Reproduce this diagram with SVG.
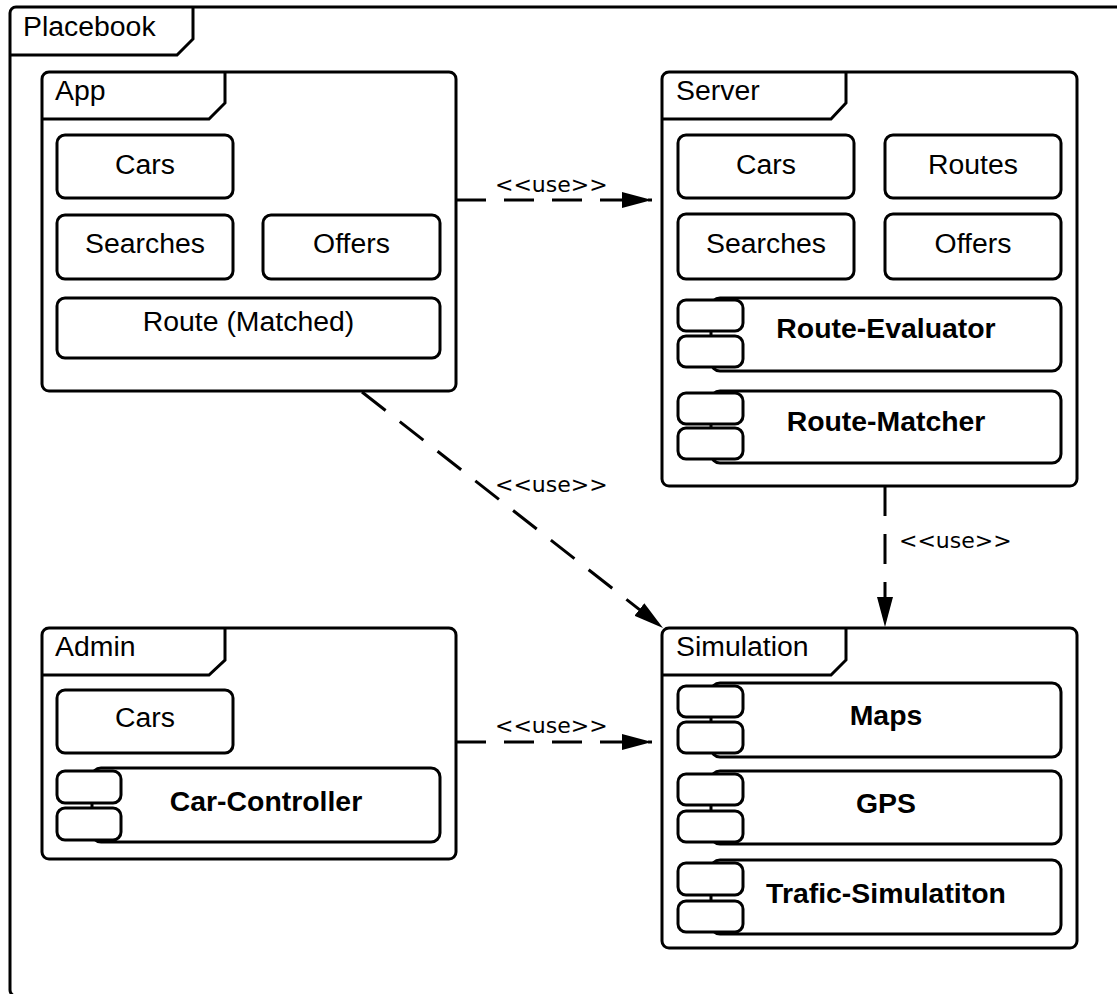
<svg xmlns="http://www.w3.org/2000/svg" width="1117" height="994" viewBox="0 0 1117 994">
  <style>
    .frame { fill: #fff; stroke: #000; stroke-width: 3; }
    .tab { fill: none; stroke: #000; stroke-width: 3; stroke-linejoin: miter; }
    .box { fill: #fff; stroke: #000; stroke-width: 3; }
    .title { font-family: "Liberation Sans", Arial, sans-serif; font-size: 28.4px; fill: #000; }
    .name { font-family: "Liberation Sans", Arial, sans-serif; font-size: 28.4px; fill: #000; text-anchor: middle; }
    .comp { font-family: "Liberation Sans", Arial, sans-serif; font-size: 28.4px; font-weight: bold; fill: #000; text-anchor: middle; }
    .dep { fill: none; stroke: #000; stroke-width: 3; stroke-dasharray: 30 18; marker-end: url(#arrow); }
    .stereo { font-family: "DejaVu Sans", Verdana, sans-serif; font-size: 22px; fill: #000; }
  </style>
  <defs>
    <marker id="arrow" markerUnits="userSpaceOnUse" markerWidth="30" markerHeight="16" refX="30" refY="8" orient="auto">
      <path d="M0,0 L30,8 L0,16 Z" fill="#000"/>
    </marker>
  </defs>

  <rect width="1117" height="994" fill="#fff"/>

  <!-- Outer package: Placebook -->
  <g id="placebook">
    <rect class="frame" x="10" y="7" width="1130" height="989" rx="6"/>
    <path class="tab" d="M10,55 H177 L193,39 V7"/>
    <text class="title" x="23" y="36">Placebook</text>
  </g>

  <!-- Package: App -->
  <g id="app">
    <rect class="frame" x="42" y="72" width="414" height="319" rx="7"/>
    <path class="tab" d="M42,119 H209 L225,103 V72"/>
    <text class="title" x="55" y="100">App</text>
    <rect class="box" x="57" y="135" width="176" height="63" rx="8"/>
    <text class="name" x="145" y="174">Cars</text>
    <rect class="box" x="57" y="215" width="176" height="64" rx="8"/>
    <text class="name" x="145" y="253">Searches</text>
    <rect class="box" x="263" y="215" width="177" height="64" rx="8"/>
    <text class="name" x="351.5" y="253">Offers</text>
    <rect class="box" x="57" y="298" width="383" height="60" rx="8"/>
    <text class="name" x="248.5" y="331">Route (Matched)</text>
  </g>

  <!-- Package: Server -->
  <g id="server">
    <rect class="frame" x="662" y="72" width="415" height="414" rx="7"/>
    <path class="tab" d="M662,119 H831 L846,103 V72"/>
    <text class="title" x="676" y="100">Server</text>
    <rect class="box" x="678" y="135" width="176" height="63" rx="8"/>
    <text class="name" x="766" y="174">Cars</text>
    <rect class="box" x="885" y="135" width="176" height="63" rx="8"/>
    <text class="name" x="973" y="174">Routes</text>
    <rect class="box" x="678" y="214" width="176" height="65" rx="8"/>
    <text class="name" x="766" y="253">Searches</text>
    <rect class="box" x="885" y="214" width="176" height="65" rx="8"/>
    <text class="name" x="973" y="253">Offers</text>
    <g id="route-evaluator">
      <rect class="box" x="711" y="298" width="350" height="73" rx="9"/>
      <rect class="box" x="678" y="300" width="65" height="31" rx="8"/>
      <rect class="box" x="678" y="336" width="65" height="31" rx="8"/>
      <text class="comp" x="886" y="338">Route-Evaluator</text>
    </g>
    <g id="route-matcher">
      <rect class="box" x="711" y="391" width="350" height="72" rx="9"/>
      <rect class="box" x="678" y="393" width="65" height="31" rx="8"/>
      <rect class="box" x="678" y="428" width="65" height="31" rx="8"/>
      <text class="comp" x="886" y="431">Route-Matcher</text>
    </g>
  </g>

  <!-- Package: Admin -->
  <g id="admin">
    <rect class="frame" x="42" y="628" width="414" height="231" rx="7"/>
    <path class="tab" d="M42,675 H209 L225,660 V628"/>
    <text class="title" x="55" y="656">Admin</text>
    <rect class="box" x="57" y="690" width="176" height="63" rx="8"/>
    <text class="name" x="145" y="727">Cars</text>
    <g id="car-controller">
      <rect class="box" x="92" y="768" width="348" height="74" rx="9"/>
      <rect class="box" x="57" y="771" width="64" height="32" rx="8"/>
      <rect class="box" x="57" y="808" width="64" height="32" rx="8"/>
      <text class="comp" x="266" y="811">Car-Controller</text>
    </g>
  </g>

  <!-- Package: Simulation -->
  <g id="simulation">
    <rect class="frame" x="662" y="628" width="415" height="320" rx="7"/>
    <path class="tab" d="M662,675 H831 L846,660 V628"/>
    <text class="title" x="676" y="656">Simulation</text>
    <g id="maps">
      <rect class="box" x="711" y="683" width="350" height="74" rx="9"/>
      <rect class="box" x="678" y="686" width="65" height="31" rx="8"/>
      <rect class="box" x="678" y="722" width="65" height="31" rx="8"/>
      <text class="comp" x="886" y="725">Maps</text>
    </g>
    <g id="gps">
      <rect class="box" x="711" y="771" width="350" height="73" rx="9"/>
      <rect class="box" x="678" y="774" width="65" height="31" rx="8"/>
      <rect class="box" x="678" y="811" width="65" height="31" rx="8"/>
      <text class="comp" x="886" y="813">GPS</text>
    </g>
    <g id="trafic-simulation">
      <rect class="box" x="711" y="860" width="350" height="74" rx="9"/>
      <rect class="box" x="678" y="863" width="65" height="32" rx="8"/>
      <rect class="box" x="678" y="901" width="65" height="31" rx="8"/>
      <text class="comp" x="886" y="903">Trafic-Simulatiton</text>
    </g>
  </g>

  <!-- Usage dependencies -->
  <g id="connectors">
    <line class="dep" x1="456" y1="200" x2="652" y2="200"/>
    <text class="stereo" x="495" y="192">&lt;&lt;use&gt;&gt;</text>
    <line class="dep" x1="362" y1="392" x2="663" y2="628"/>
    <text class="stereo" x="495" y="492">&lt;&lt;use&gt;&gt;</text>
    <line class="dep" x1="885" y1="486" x2="885" y2="627"/>
    <text class="stereo" x="899" y="548">&lt;&lt;use&gt;&gt;</text>
    <line class="dep" x1="456" y1="742" x2="652" y2="742"/>
    <text class="stereo" x="495" y="733">&lt;&lt;use&gt;&gt;</text>
  </g>
</svg>
